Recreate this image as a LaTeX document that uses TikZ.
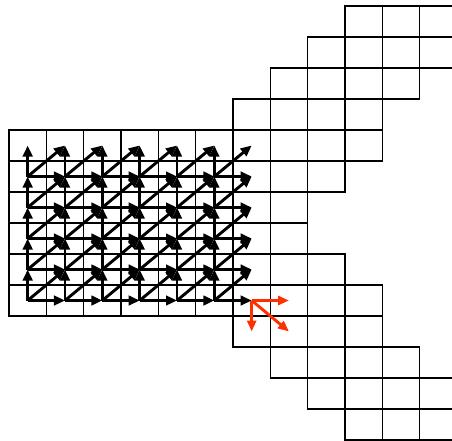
\documentclass[tikz,border=0pt]{standalone}
\usetikzlibrary{arrows.meta}
\definecolor{redarrow}{RGB}{255,48,0}
\tikzset{
  cell/.style={draw=black, line width=1.5pt},
  blackarrow/.style={draw=black, line width=2.9pt, -{Triangle[length=11pt,width=9.5pt]}},
  redarr/.style={draw=redarrow, line width=2.9pt, -{Triangle[length=11pt,width=9pt]}}
}
\begin{document}
\begin{tikzpicture}[x=37.333pt, y=-31pt]
\useasboundingbox (-0.24107,-0.19355) rectangle (11.8661,14.0);
% grid rows: row/first col/last col
\foreach \r/\a/\b in {0/9/11,1/8/11,2/7/10,3/6/9,4/0/9,5/0/8,6/0/7,7/0/7,8/0/8,9/0/9,10/6/9,11/7/10,12/8/11,13/9/11}{
  \foreach \c in {\a,...,\b}{
    \draw[cell] (\c,\r) rectangle ({\c+1},{\r+1});
  }
}
% cell centres
\foreach \i in {0,...,6}{
  \foreach \j in {0,...,5}{
    \coordinate (n-\i-\j) at ({\i+0.5},{9.5-\j});
  }
}
% black arrows
\foreach \i [evaluate=\i as \ii using int(\i+1)] in {0,...,5}{
  \foreach \j [evaluate=\j as \jj using int(\j+1)] in {0,...,4}{
    \draw[blackarrow] (n-\i-\j) -- (n-\ii-\j);
    \draw[blackarrow] (n-\i-\j) -- (n-\i-\jj);
    \draw[blackarrow] (n-\i-\j) -- (n-\ii-\jj);
  }
}
% red arrows
\coordinate (rR) at (7.5,9.5);
\coordinate (rD) at (6.5,10.5);
\coordinate (rDR) at (7.5,10.5);
\draw[redarr] (n-6-0) -- (rR);
\draw[redarr] (n-6-0) -- (rD);
\draw[redarr] (n-6-0) -- (rDR);
\end{tikzpicture}
\end{document}
